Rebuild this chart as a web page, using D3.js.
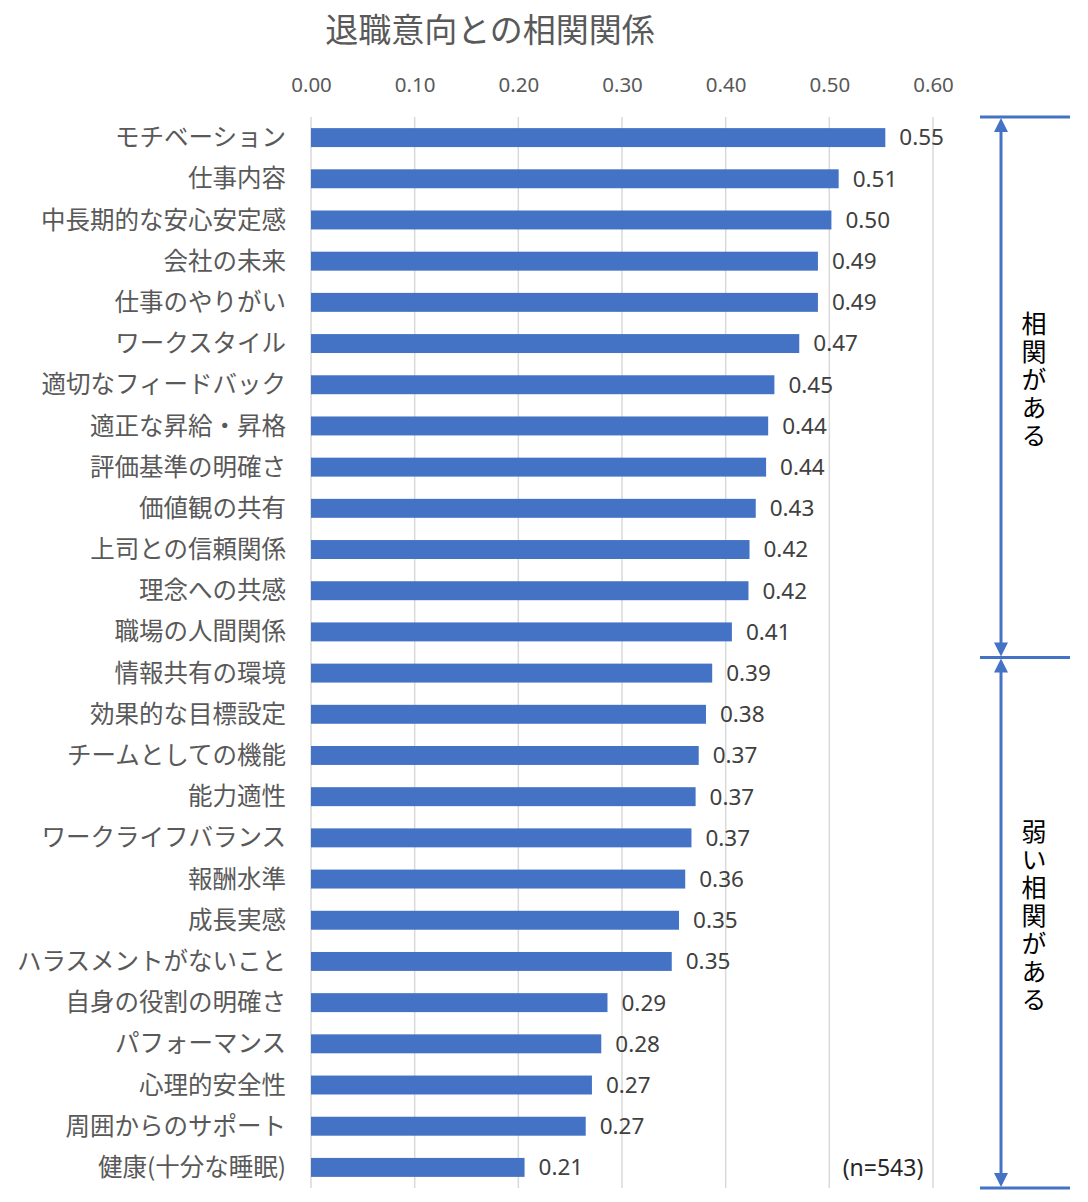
<!DOCTYPE html>
<html>
<head>
<meta charset="utf-8">
<script src="https://d3js.org/d3.v7.min.js"></script>
<style>
  body { margin: 0; background: #fff; }
  text { font-family: "Noto Sans CJK JP", "Noto Sans", sans-serif; }
</style>
</head>
<body>
<div id="chart"></div>
<script>
  // 退職意向との相関関係 (n=543)
  const categories = [
    "モチベーション", "仕事内容", "中長期的な安心安定感", "会社の未来", "仕事のやりがい",
    "ワークスタイル", "適切なフィードバック", "適正な昇給・昇格", "評価基準の明確さ", "価値観の共有",
    "上司との信頼関係", "理念への共感", "職場の人間関係", "情報共有の環境", "効果的な目標設定",
    "チームとしての機能", "能力適性", "ワークライフバランス", "報酬水準", "成長実感",
    "ハラスメントがないこと", "自身の役割の明確さ", "パフォーマンス", "心理的安全性", "周囲からのサポート",
    "健康(十分な睡眠)"
  ];
  const values = [
    0.554, 0.509, 0.502, 0.489, 0.489,
    0.471, 0.447, 0.441, 0.439, 0.429,
    0.423, 0.422, 0.406, 0.387, 0.381,
    0.374, 0.371, 0.367, 0.361, 0.355,
    0.348, 0.286, 0.280, 0.271, 0.265,
    0.206
  ];
  const tickValues = [0, 0.1, 0.2, 0.3, 0.4, 0.5, 0.6];
  const groups = [
    { label: "相関がある", from: 0, to: 12 },
    { label: "弱い相関がある", from: 13, to: 25 }
  ];

  const width = 1088, height = 1202;
  const blue = "#4472C4";

  const svg = d3.select("#chart").append("svg")
    .attr("width", width)
    .attr("height", height);

  const x = d3.scaleLinear().domain([0, 0.6]).range([311, 933]);
  const y = d3.scaleBand().domain(categories).range([117, 1188])
    .paddingInner(0.54).paddingOuter(0.27);

  svg.append("text")
    .attr("x", 490).attr("y", 42)
    .attr("text-anchor", "middle")
    .attr("font-size", 33)
    .attr("fill", "#595959")
    .text("退職意向との相関関係");

  // grid
  svg.append("g")
    .selectAll("line")
    .data(tickValues)
    .enter().append("line")
    .attr("x1", d => x(d)).attr("x2", d => x(d))
    .attr("y1", 117).attr("y2", 1188)
    .attr("stroke", "#d9d9d9")
    .attr("stroke-width", 1.5);

  // top axis
  const axis = svg.append("g")
    .attr("transform", "translate(0,95)")
    .call(d3.axisTop(x).tickValues(tickValues).tickFormat(d3.format(".2f")).tickSize(0));
  axis.select(".domain").remove();
  axis.selectAll("text")
    .attr("font-size", 20.5)
    .attr("fill", "#595959")
    .style("font-family", "'Noto Sans', sans-serif");

  // category labels
  svg.append("g")
    .selectAll("text")
    .data(categories)
    .enter().append("text")
    .attr("x", 286)
    .attr("y", d => y(d) + y.bandwidth() / 2)
    .attr("dy", "0.35em")
    .attr("text-anchor", "end")
    .attr("font-size", 24.5)
    .attr("fill", "#595959")
    .text(d => d);

  // bars
  svg.append("g")
    .selectAll("rect")
    .data(values)
    .enter().append("rect")
    .attr("x", x(0))
    .attr("y", (d, i) => y(categories[i]))
    .attr("width", d => x(d) - x(0))
    .attr("height", y.bandwidth())
    .attr("fill", blue);

  // value labels
  svg.append("g")
    .selectAll("text")
    .data(values)
    .enter().append("text")
    .attr("x", d => x(d) + 14)
    .attr("y", (d, i) => y(categories[i]) + y.bandwidth() / 2)
    .attr("dy", "0.35em")
    .attr("font-size", 22.5)
    .attr("fill", "#404040")
    .style("font-family", "'Noto Sans', sans-serif")
    .text(d => d.toFixed(2));

  svg.append("text")
    .attr("x", 883).attr("y", 1176)
    .attr("text-anchor", "middle")
    .attr("font-size", 23)
    .attr("fill", "#262626")
    .style("font-family", "'Noto Sans', sans-serif")
    .text("(n=543)");

  // bracket on the right
  const bx = 1001;
  const edge = i => i === 0 ? 117 : (i >= categories.length ? 1188 : y(categories[i]) - y.step() * 0.27 + 5);
  const cuts = [edge(0), edge(groups[1].from), edge(categories.length)];

  const br = svg.append("g");
  br.selectAll("line.h")
    .data(cuts)
    .enter().append("line")
    .attr("x1", 980).attr("x2", 1070)
    .attr("y1", d => d).attr("y2", d => d)
    .attr("stroke", blue).attr("stroke-width", 3);

  groups.forEach((g, k) => {
    const top = cuts[k], bottom = cuts[k + 1];
    br.append("line")
      .attr("x1", bx).attr("x2", bx)
      .attr("y1", top + 12).attr("y2", bottom - 12)
      .attr("stroke", blue).attr("stroke-width", 3);
    br.append("path")
      .attr("d", `M${bx},${top + 1} L${bx - 7},${top + 15} L${bx + 7},${top + 15} Z`)
      .attr("fill", blue);
    br.append("path")
      .attr("d", `M${bx},${bottom - 1} L${bx - 7},${bottom - 15} L${bx + 7},${bottom - 15} Z`)
      .attr("fill", blue);

    // vertical (tategaki) label
    br.append("text")
      .attr("x", 1034)
      .attr("y", (top + bottom) / 2 - 6)
      .attr("text-anchor", "middle")
      .attr("font-size", 25)
      .attr("fill", "#000")
      .style("writing-mode", "vertical-rl")
      .style("text-orientation", "upright")
      .style("letter-spacing", "3px")
      .text(g.label);
  });
</script>
</body>
</html>
